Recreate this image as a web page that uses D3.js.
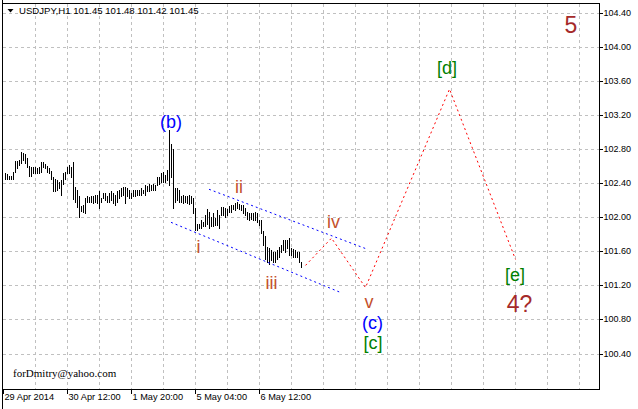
<!DOCTYPE html>
<html><head><meta charset="utf-8">
<script src="https://cdn.jsdelivr.net/npm/d3@7"></script>
<style>
html,body{margin:0;padding:0;background:#fff;}
svg{display:block;font-family:"Liberation Sans",Arial,sans-serif;}
</style>
</head><body>
<svg id="c" width="638" height="409"></svg>
<script>
// ---------- data ----------
const symbolName = "USDJPY,H1";
const headerValues = [101.45, 101.48, 101.42, 101.45];

const highs = [
102.52,102.51,102.49,102.49,102.54,102.67,102.67,102.68,102.77,102.76,
102.75,102.70,102.61,102.60,102.60,102.60,102.58,102.59,102.65,102.65,
102.63,102.61,102.58,102.55,102.48,102.45,102.44,102.42,102.44,102.53,
102.54,102.60,102.62,102.60,102.65,102.36,102.33,102.25,102.14,102.15,
102.23,102.25,102.24,102.25,102.26,102.27,102.27,102.31,102.23,102.29,
102.29,102.26,102.29,102.31,102.29,102.27,102.31,102.33,102.35,102.36,
102.36,102.35,102.33,102.29,102.32,102.33,102.33,102.32,102.35,102.33,
102.38,102.37,102.40,102.38,102.40,102.38,102.48,102.48,102.52,102.54,
102.50,102.56,103.03,102.87,102.81,102.35,102.35,102.33,102.25,102.27,
102.25,102.26,102.27,102.25,102.23,102.11,101.93,101.93,101.97,101.95,
102.03,102.10,102.07,102.01,102.05,102.00,102.09,102.03,102.12,102.13,
102.11,102.10,102.14,102.15,102.15,102.17,102.19,102.16,102.15,102.15,
102.11,102.07,102.05,102.06,102.05,102.07,102.05,101.97,101.97,101.84,
101.78,101.66,101.65,101.62,101.60,101.60,101.62,101.66,101.68,101.74,
101.74,101.74,101.76,101.64,101.63,101.62,101.60,101.60,101.48];

const lows = [
102.46,102.46,102.46,102.46,102.46,102.54,102.58,102.62,102.64,102.68,
102.64,102.60,102.49,102.49,102.52,102.52,102.52,102.53,102.54,102.60,
102.58,102.54,102.52,102.46,102.31,102.31,102.32,102.35,102.27,102.40,
102.45,102.52,102.52,102.48,102.22,102.18,102.12,102.01,102.08,102.07,
102.05,102.18,102.19,102.19,102.17,102.18,102.17,102.11,102.18,102.23,
102.21,102.18,102.19,102.21,102.17,102.15,102.19,102.23,102.25,102.27,
102.17,102.25,102.23,102.23,102.25,102.26,102.27,102.27,102.27,102.29,
102.27,102.31,102.31,102.33,102.33,102.33,102.38,102.40,102.42,102.42,
102.42,102.44,102.38,102.48,102.11,102.19,102.21,102.19,102.19,102.17,
102.19,102.17,102.16,102.17,102.05,101.86,101.86,101.88,101.88,101.90,
101.90,101.93,101.88,101.90,101.90,101.91,101.91,101.88,102.03,102.03,
102.01,102.03,102.07,102.07,102.10,102.09,102.11,102.10,102.09,102.05,
102.03,101.99,101.97,101.98,101.97,101.97,101.95,101.91,101.82,101.68,
101.52,101.48,101.46,101.50,101.48,101.48,101.52,101.54,101.60,101.62,
101.60,101.64,101.56,101.56,101.54,101.54,101.54,101.48,101.42];

const priceTicks = [100.40,100.80,101.20,101.60,102.00,102.40,102.80,103.20,103.60,104.00,104.40];
const timeLabels = ["29 Apr 2014","30 Apr 12:00","1 May 20:00","5 May 04:00","6 May 12:00"];
const timeLabelBars = [-1,31,63,95,127];

// forecast path (bar index, price)
const forecastBars   = [150, 163, 180, 222, 255];
const forecastPrices = [101.44, 101.76, 101.18, 103.51, 101.51];

// channel lines
const upperChannelBars   = [101.75, 181.25];
const upperChannelPrices = [102.334, 101.627];
const lowerChannelBars   = [82.75, 167.25];
const lowerChannelPrices = [101.946, 101.125];

// wave labels
const waveTexts  = ["(b)","i","ii","iii","iv","v","(c)","[c]","[d]","[e]","4?","5"];
const waveBars   = [82.75, 96.5, 116.75, 133, 164, 181.75, 183.5, 183.75, 220.75, 254.75, 257, 282.75];
const wavePrices = [103.05, 101.59, 102.29, 101.16, 101.88, 100.94, 100.695, 100.46, 103.69, 101.26, 100.89, 104.17];
const waveKinds  = ["blue","roman","roman","roman","roman","roman","blue","green","green","green","big","big"];

const signature = "forDmitry@yahoo.com";

// ---------- drawing ----------
const svg = d3.select("#c");
const L = 2.5, R = 599.5, T = 3.5, B = 389.5;

const x = d3.scaleLinear().domain([-1, 297]).range([3.5, 599.5]);
const y = d3.scaleLinear().domain([100.40, 104.40]).range([354, 13.3]);
const snap = v => Math.floor(v) + 0.5;

svg.append("rect").attr("width",638).attr("height",409).attr("fill","#fff");

// grid
const g = svg.append("g").attr("shape-rendering","crispEdges");
const vBars = d3.range(-1, 297, 16).filter(b => b > -1);
g.selectAll("line.vg").data(vBars).join("line")
  .attr("x1", d => snap(x(d))).attr("x2", d => snap(x(d)))
  .attr("y1", T).attr("y2", B)
  .attr("stroke","#c0c0c0").attr("stroke-dasharray","3,3");
g.selectAll("line.hg").data(priceTicks).join("line")
  .attr("x1", L).attr("x2", R)
  .attr("y1", d => snap(y(d))).attr("y2", d => snap(y(d)))
  .attr("stroke","#c0c0c0").attr("stroke-dasharray","3,3");

// bars
svg.append("g").attr("shape-rendering","crispEdges")
  .selectAll("line").data(highs).join("line")
  .attr("x1", (d,i) => snap(x(i))).attr("x2", (d,i) => snap(x(i)))
  .attr("y1", d => Math.round(y(d))).attr("y2", (d,i) => Math.round(y(lows[i])) + 1)
  .attr("stroke","#000").attr("stroke-width",1);

// channel lines
const chan = (bars, prices) => svg.append("line")
  .attr("x1", x(bars[0])).attr("y1", y(prices[0]))
  .attr("x2", x(bars[1])).attr("y2", y(prices[1]))
  .attr("stroke","#0000ff").attr("stroke-width",1).attr("stroke-dasharray","2,3");
chan(upperChannelBars, upperChannelPrices);
chan(lowerChannelBars, lowerChannelPrices);

// forecast path
svg.append("path")
  .datum(forecastBars.map((b,i) => [b, forecastPrices[i]]))
  .attr("d", d3.line().x(d => x(d[0])).y(d => y(d[1])))
  .attr("fill","none").attr("stroke","#ff0000").attr("stroke-width",1)
  .attr("stroke-dasharray","2,3");

// wave labels
const kindStyle = {
  blue:  {fill:"#0000ff", size:18},
  roman: {fill:"#c4502c", size:18},
  green: {fill:"#008000", size:18},
  big:   {fill:"#a52a2a", size:23}
};
svg.selectAll("text.wave").data(waveTexts).join("text")
  .attr("class","wave")
  .attr("x", (d,i) => x(waveBars[i])).attr("y", (d,i) => y(wavePrices[i]))
  .attr("text-anchor","middle")
  .attr("font-size", (d,i) => kindStyle[waveKinds[i]].size)
  .attr("fill", (d,i) => kindStyle[waveKinds[i]].fill)
  .text(d => d);

// frame
const f = svg.append("g").attr("shape-rendering","crispEdges").attr("stroke","#000").attr("fill","none");
f.append("line").attr("x1",L).attr("x2",L).attr("y1",0).attr("y2",409);
f.append("line").attr("x1",L).attr("x2",R).attr("y1",T).attr("y2",T);
f.append("line").attr("x1",R).attr("x2",R).attr("y1",T).attr("y2",B);
f.append("line").attr("x1",L).attr("x2",R).attr("y1",B).attr("y2",B);

// right axis
const ya = svg.append("g").attr("transform",`translate(${R},0)`)
  .call(d3.axisRight(y).tickValues(priceTicks).tickFormat(d3.format(".2f")).tickSize(3).tickPadding(1));
ya.select(".domain").remove();
ya.selectAll(".tick line").attr("stroke","#000").attr("shape-rendering","crispEdges");
ya.selectAll(".tick").attr("transform", d => `translate(0,${snap(y(d))})`);
ya.selectAll(".tick text").attr("font-family","Liberation Sans, Arial, sans-serif")
  .attr("font-size",9).attr("fill","#000").attr("dy","0.33em");

// bottom axis
const xa = svg.append("g");
xa.selectAll("line").data(timeLabelBars).join("line")
  .attr("x1", d => snap(x(d))).attr("x2", d => snap(x(d)))
  .attr("y1", B).attr("y2", B + 4).attr("stroke","#000").attr("shape-rendering","crispEdges");
xa.selectAll("text").data(timeLabels).join("text")
  .attr("x", (d,i) => x(timeLabelBars[i]) + 1).attr("y", 400)
  .attr("font-size",9.2).attr("fill","#000").text(d => d);

// header
svg.append("path").attr("d","M7.5,9L13.5,9L10.5,12.5Z").attr("fill","#000");
svg.append("text").attr("x",19).attr("y",14).attr("font-size",9.6).attr("fill","#000")
  .text(symbolName + "  " + headerValues.map(d3.format(".2f")).join(" "));

// signature
svg.append("text").attr("x",13).attr("y",377)
  .attr("font-family","Liberation Serif, Times New Roman, serif").attr("font-size",11)
  .attr("fill","#000").text(signature);
</script>
</body></html>
